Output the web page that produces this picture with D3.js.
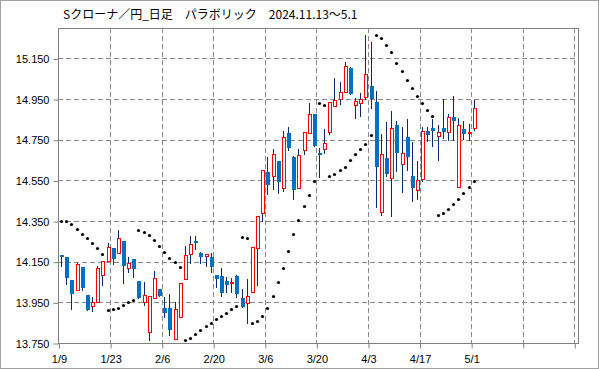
<!DOCTYPE html>
<html>
<head>
<meta charset="utf-8">
<script src="https://cdn.jsdelivr.net/npm/d3@7"></script>
<style>
  html, body { margin: 0; padding: 0; background: #fff; }
  svg { display: block; }
</style>
</head>
<body>
<script>
// ---- data ----
const title = "Sクローナ／円_日足　パラボリック　2024.11.13～5.1";
const xTickLabels = ["1/9", "1/23", "2/6", "2/20", "3/6", "3/20", "4/3", "4/17", "5/1", "", ""];
const yTicks = [13.75, 13.95, 14.15, 14.35, 14.55, 14.75, 14.95, 15.15];

const open = [14.183,14.173,14.059,14.009,14.123,13.985,13.930,13.952,14.083,14.153,
  14.216,14.191,14.251,14.120,14.161,14.054,13.950,13.802,13.972,14.018,
  13.923,13.923,13.772,13.879,14.067,14.186,14.252,14.192,14.179,14.172,
  14.084,14.079,14.054,14.045,14.079,13.971,13.949,14.003,14.216,14.392,
  14.591,14.573,14.646,14.515,14.782,14.666,14.515,14.698,14.782,14.877,
  14.684,14.703,14.790,14.915,14.952,14.984,15.102,14.921,14.931,14.962,
  15.015,14.936,14.397,14.659,14.561,14.822,14.629,14.762,14.572,14.501,
  14.559,14.792,14.808,14.767,14.808,14.787,14.861,14.516,14.802,14.781,14.807];
const high = [14.183,14.173,14.062,14.142,14.123,13.985,13.976,14.128,14.154,14.240,
  14.216,14.306,14.251,14.174,14.161,14.054,14.048,13.979,14.104,14.018,
  13.977,13.989,13.954,14.043,14.227,14.276,14.275,14.197,14.187,14.195,
  14.084,14.118,14.073,14.071,14.084,14.018,14.064,14.224,14.377,14.601,
  14.665,14.705,14.646,14.793,14.813,14.672,14.705,14.787,14.931,14.877,
  14.711,14.803,14.935,15.053,15.033,15.132,15.107,14.954,14.979,15.266,
  15.230,14.989,14.777,14.836,14.891,14.843,14.813,14.851,14.738,14.646,
  14.812,14.813,14.852,14.824,14.949,14.877,14.965,14.857,14.841,14.829,14.948];
const low = [14.130,14.038,13.915,14.009,14.010,13.913,13.908,13.952,14.035,14.153,
  14.137,14.191,14.046,14.097,14.074,13.969,13.936,13.767,13.972,13.981,
  13.877,13.788,13.772,13.879,14.067,14.146,14.213,14.143,14.130,14.099,
  14.024,13.981,14.000,13.999,13.977,13.927,13.849,14.003,14.036,14.349,
  14.482,14.509,14.489,14.498,14.700,14.460,14.515,14.682,14.782,14.721,
  14.568,14.687,14.780,14.915,14.925,14.984,14.977,14.856,14.869,14.950,
  14.905,14.421,14.382,14.573,14.377,14.598,14.495,14.600,14.450,14.460,
  14.545,14.743,14.717,14.652,14.759,14.748,14.751,14.516,14.754,14.751,14.797];
const close = [14.173,14.071,13.992,14.137,14.021,13.913,13.954,14.117,14.154,14.222,
  14.164,14.268,14.130,14.145,14.115,13.969,13.985,13.979,14.069,13.981,
  13.900,13.812,13.917,14.043,14.182,14.236,14.243,14.174,14.187,14.125,
  14.064,13.997,14.036,14.051,13.990,13.927,13.983,14.224,14.377,14.601,
  14.527,14.679,14.541,14.762,14.711,14.505,14.674,14.787,14.876,14.721,
  14.675,14.733,14.935,14.945,14.984,15.112,14.977,14.941,14.950,15.073,
  14.950,14.614,14.678,14.582,14.807,14.687,14.684,14.663,14.515,14.551,
  14.791,14.772,14.791,14.787,14.787,14.861,14.844,14.825,14.780,14.786,14.905];
const sar = [14.352,14.350,14.334,14.309,14.285,14.267,14.243,14.217,14.189,13.910,
  13.916,13.920,13.939,13.953,13.964,14.304,14.297,14.281,14.255,14.226,
  14.196,14.170,14.147,14.125,13.767,13.777,13.794,13.815,13.832,13.849,
  13.870,13.885,13.900,13.915,13.930,14.273,14.268,13.849,13.856,13.881,
  13.920,13.982,14.051,14.118,14.201,14.285,14.355,14.423,14.477,14.549,
  14.931,14.920,14.572,14.580,14.600,14.615,14.649,14.679,14.704,14.727,
  14.773,15.265,15.250,15.216,15.181,15.130,15.087,15.043,15.004,14.963,
  14.930,14.895,14.866,14.379,14.388,14.407,14.434,14.461,14.490,14.520,14.546];

// ---- layout ----
const W = 599, H = 369;
const pLeft = 58, pRight = 578, pTop = 28, pBottom = 343;

const svg = d3.select("body").append("svg")
  .attr("width", W).attr("height", H)
  .style("font-family", "'Liberation Sans', Arial, sans-serif");

svg.append("rect").attr("x", 0.5).attr("y", 0.5).attr("width", W - 1).attr("height", H - 1)
  .attr("fill", "#fff").attr("stroke", "#a0a0a0");

const x = d3.scaleLinear().domain([0, 100]).range([58.5, 574.3]);
const y = d3.scaleLinear().domain([13.75, 15.30]).range([pBottom, pTop]);

const crisp = v => Math.round(v) + 0.5;
const ry = v => Math.round(y(v));

// title
svg.append("text").attr("x", 63).attr("y", 19)
  .style("font-family", "'Noto Sans CJK JP', sans-serif")
  .style("font-size", "12px").attr("fill", "#000")
  .text(title);

// gridlines
const grid = svg.append("g").attr("stroke", "#8a8a8a").attr("stroke-dasharray", "5,3");
yTicks.filter(v => v > 13.76).forEach(v => {
  grid.append("line").attr("x1", pLeft).attr("x2", pRight)
    .attr("y1", crisp(y(v))).attr("y2", crisp(y(v)));
});
d3.range(1, 11).forEach(k => {
  grid.append("line").attr("y1", pTop).attr("y2", pBottom)
    .attr("x1", crisp(x(10 * k))).attr("x2", crisp(x(10 * k)));
});

// frame
svg.append("rect").attr("x", pLeft + 0.5).attr("y", pTop + 0.5)
  .attr("width", pRight - pLeft).attr("height", pBottom - pTop)
  .attr("fill", "none").attr("stroke", "#808080");

// y axis
const yAxis = d3.axisLeft(y).tickValues(yTicks).tickFormat(d3.format(".3f")).tickSize(5).tickPadding(4);
const gy = svg.append("g").attr("transform", `translate(${pLeft + 0.5},0.5)`).call(yAxis);
gy.select(".domain").remove();
gy.selectAll("line").attr("stroke", "#808080");
gy.selectAll("text").style("font-size", "11px").attr("fill", "#000")
  .style("font-family", "'Liberation Sans', Arial, sans-serif");

// x axis
const xAxis = d3.axisBottom(x).tickValues(d3.range(0, 101, 10))
  .tickFormat((d, i) => xTickLabels[i]).tickSize(5).tickPadding(7);
const gx = svg.append("g").attr("transform", `translate(0.5,${pBottom + 0.5})`).call(xAxis);
gx.select(".domain").remove();
gx.selectAll("line").attr("stroke", "#808080");
gx.selectAll("text").style("font-size", "11px").attr("fill", "#000")
  .style("font-family", "'Liberation Sans', Arial, sans-serif");

// candles
const idx = d3.range(open.length);
const cx = i => Math.round(x(i + 0.5));
const gc = svg.append("g").attr("shape-rendering", "crispEdges");
gc.selectAll("line.wick").data(idx).join("line")
  .attr("x1", i => cx(i) + 0.5).attr("x2", i => cx(i) + 0.5)
  .attr("y1", i => ry(high[i])).attr("y2", i => ry(low[i]) + 1)
  .attr("stroke", "#0b2a6b").attr("stroke-width", 1);

gc.selectAll("rect.down").data(idx.filter(i => close[i] < open[i])).join("rect")
  .attr("x", i => cx(i) - 1.5).attr("width", 4)
  .attr("y", i => ry(open[i])).attr("height", i => Math.max(1, ry(close[i]) - ry(open[i])))
  .attr("fill", "#0070c0");

gc.selectAll("rect.up").data(idx.filter(i => close[i] >= open[i])).join("rect")
  .attr("x", i => cx(i) - 1).attr("width", 3)
  .attr("y", i => ry(close[i]) + 0.5).attr("height", i => Math.max(1, ry(open[i]) - ry(close[i])))
  .attr("fill", "#fff").attr("stroke", "#ff0000").attr("stroke-width", 1);

// parabolic SAR dots
svg.append("g").selectAll("circle").data(idx).join("circle")
  .attr("cx", i => cx(i) + 0.5).attr("cy", i => ry(sar[i]) + 0.5)
  .attr("r", 1.6).attr("fill", "#000");
</script>
</body>
</html>
